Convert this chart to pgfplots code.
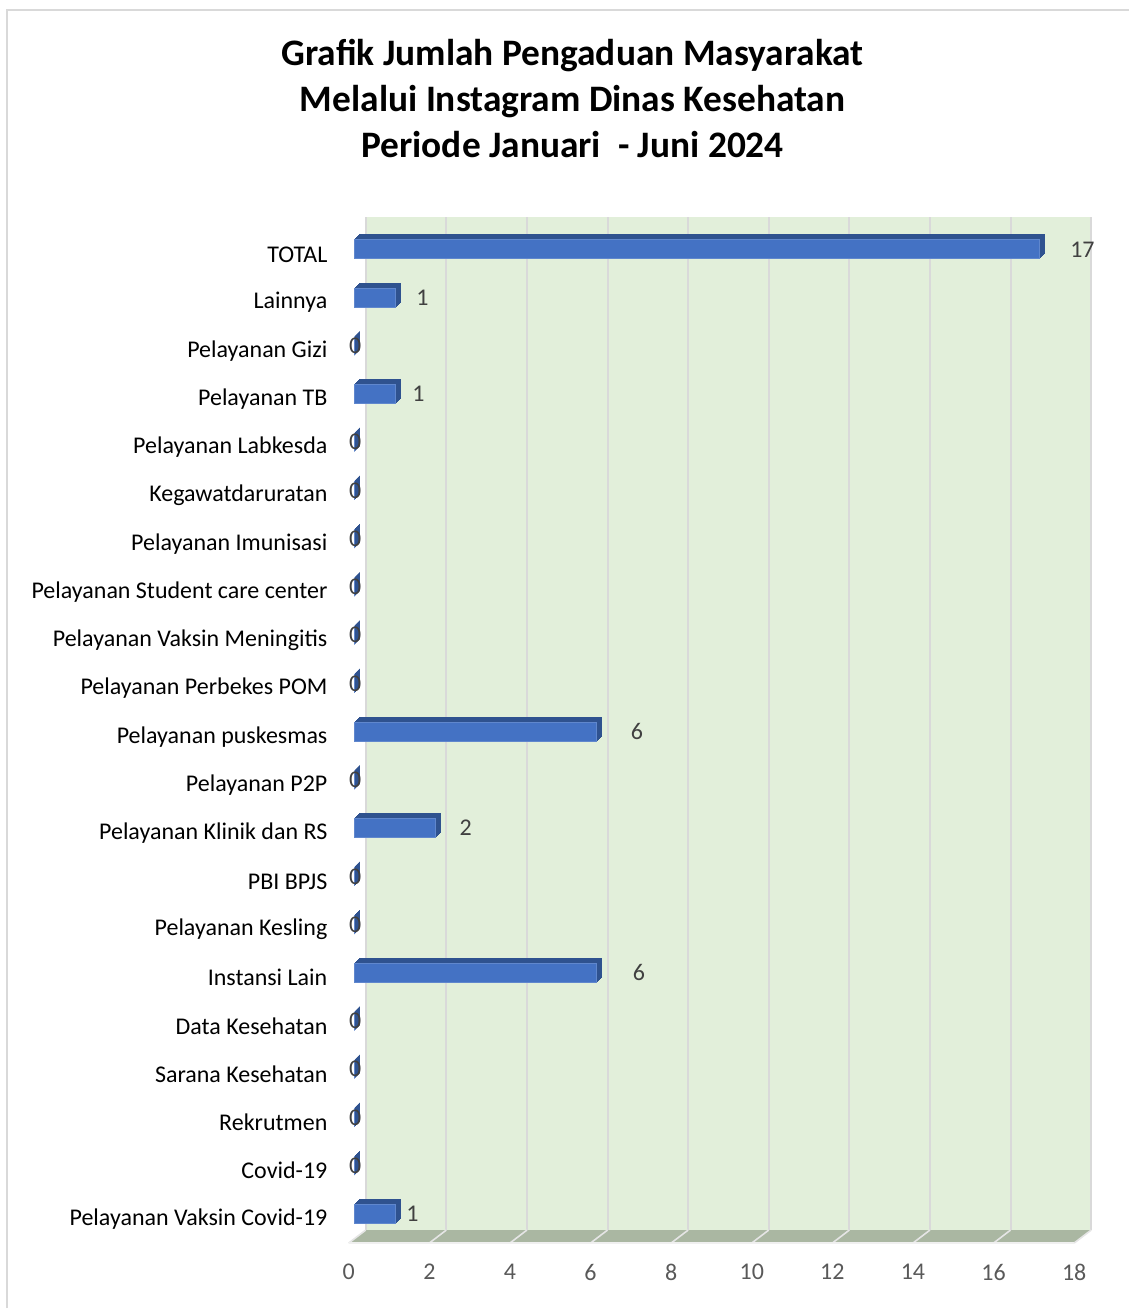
\documentclass[border=0pt]{standalone}
\usepackage{fontspec}
\setmainfont{Carlito}
\usepackage{pgfplots}
\usepackage{pgfplotstable}
\pgfplotsset{compat=1.18}
\definecolor{wall}{HTML}{E2EFDA}
\definecolor{floorc}{HTML}{AAB7A2}
\definecolor{gridc}{HTML}{D9D9D9}
\definecolor{barfront}{HTML}{4472C4}
\definecolor{bartop}{HTML}{2F528F}
\definecolor{tickc}{HTML}{595959}
\definecolor{valc}{HTML}{404040}
\definecolor{framec}{HTML}{D9D9D9}

\pgfplotstableread{
y v lx
0 1 8.5
1 0 0
2 0 0
3 0 0
4 0 0
5 6 21
6 0 0
7 0 0
8 2 15
9 0 0
10 6 20
11 0 0
12 0 0
13 0 0
14 0 0
15 0 0
16 0 0
17 1 11.5
18 0 0
19 1 13.5
20 17 18
}\datatable

\begin{document}
\begin{tikzpicture}
\path (0,0) rectangle (565pt,654.5pt);
\draw[framec, line width=1pt] (3.5pt,0) -- (3.5pt,649.5pt) -- (565pt,649.5pt);
\node[align=center, font=\fontsize{18.7}{23}\selectfont\bfseries] at (286.5pt,605pt)
  {Grafik Jumlah Pengaduan Masyarakat\\Melalui Instagram Dinas Kesehatan\\Periode Januari\ \ - Juni 2024};
\begin{axis}[
  at={(183pt,39pt)}, anchor=south west,
  width=363pt, height=506.8pt, scale only axis,
  xmin=0, xmax=18, ymin=-0.5, ymax=20.5,
  xtick={0,2,...,18},
  ytick={0,...,20},
  yticklabels={Pelayanan Vaksin Covid-19,Covid-19,Rekrutmen,Sarana Kesehatan,Data Kesehatan,Instansi Lain,Pelayanan Kesling,PBI BPJS,Pelayanan Klinik dan RS,Pelayanan P2P,Pelayanan puskesmas,Pelayanan Perbekes POM,Pelayanan Vaksin Meningitis,Pelayanan Student care center,Pelayanan Imunisasi,Kegawatdaruratan,Pelayanan Labkesda,Pelayanan TB,Pelayanan Gizi,Lainnya,TOTAL},
  axis line style={draw=none},
  major tick length=0pt,
  xmajorgrids,
  major grid style={draw=gridc, line width=1pt, xshift=8.5pt, yshift=6.5pt},
  axis background/.style={fill=wall, xshift=8.5pt, yshift=6.5pt},
  xticklabel style={font=\fontsize{12}{14}\selectfont, text=tickc, inner sep=0pt, yshift=-10.5pt},
  yticklabel style={font=\fontsize{12}{14}\selectfont, text=black, inner sep=0pt, xshift=-10.5pt},
  /pgf/number format/assume math mode=true,
  clip=false,
]
\fill[floorc] (axis cs:0,-0.5) -- (axis cs:18,-0.5) -- ([xshift=8.5pt,yshift=6.5pt]axis cs:18,-0.5) -- ([xshift=8.5pt,yshift=6.5pt]axis cs:0,-0.5) -- cycle;
\pgfplotsinvokeforeach{0,2,4,6,8,10,12,14,16,18}{
  \draw[white!80!gray, line width=0.8pt] (axis cs:#1,-0.5) -- ([xshift=8.5pt,yshift=6.5pt]axis cs:#1,-0.5);
}
\draw[white!88!gray, line width=0.8pt] (axis cs:0,-0.5) -- (axis cs:18,-0.5);
% extruded depth of the bars (top and side faces)
\pgfplotsinvokeforeach{2.5,2.0,1.5,1.0,0.5}{
  \addplot[xbar, bar shift=0pt, bar width=9.5pt, fill=bartop, draw=bartop, line width=0.5pt,
    xshift=3pt+#1pt, yshift=2.5pt+#1pt] table[x=v, y=y] {\datatable};
}
% front face of bars
\addplot[xbar, bar shift=0pt, bar width=9.5pt, fill=barfront, draw=barfront!85!white, line width=0.4pt,
  xshift=3pt, yshift=2.5pt] table[x=v, y=y] {\datatable};
% value labels
\addplot[draw=none, mark=none, point meta=x,
  visualization depends on={\thisrow{lx} \as \lx},
  nodes near coords,
  every node near coord/.append style={anchor=west, inner sep=0pt, xshift=\lx pt, yshift=2.5pt,
     font=\fontsize{12}{14}\selectfont, text=valc}]
  table[x=v, y=y] {\datatable};
\end{axis}
\end{tikzpicture}
\end{document}
